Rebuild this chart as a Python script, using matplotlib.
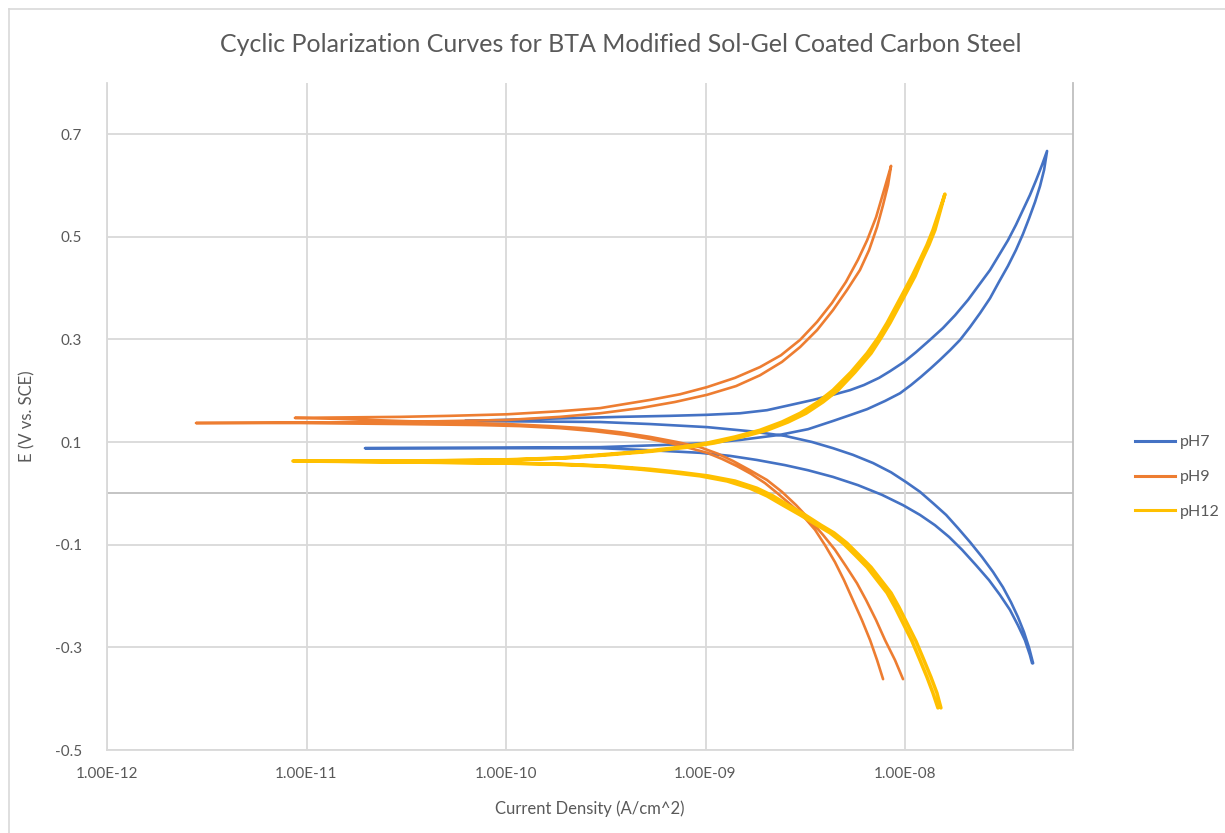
import numpy as np
import matplotlib
matplotlib.use("Agg")
import matplotlib.pyplot as plt
from matplotlib.lines import Line2D

plt.rcParams['font.family'] = ['Lato', 'DejaVu Sans']

# values, in scan order:
# (log10 current density in A/cm^2, potential in V vs SCE)
ph7 = [
    (-7.363, -0.331), (-7.374, -0.315), (-7.399, -0.286), (-7.434, -0.257), (-7.474, -0.227),
    (-7.524, -0.198), (-7.579, -0.169), (-7.644, -0.140), (-7.714, -0.110), (-7.779, -0.085),
    (-7.850, -0.062), (-7.925, -0.042), (-8.010, -0.023), (-8.115, -0.003), (-8.236, 0.016),
    (-8.361, 0.032), (-8.486, 0.045), (-8.602, 0.055), (-8.742, 0.065), (-8.877, 0.073),
    (-9.028, 0.079), (-9.278, 0.084), (-9.529, 0.088), (-10.030, 0.088), (-10.707, 0.088),
    (-10.030, 0.089), (-9.529, 0.090), (-9.228, 0.094), (-8.992, 0.098), (-8.827, 0.104),
    (-8.627, 0.114), (-8.486, 0.125), (-8.361, 0.141), (-8.271, 0.153), (-8.190, 0.164),
    (-8.100, 0.180), (-8.025, 0.195), (-7.970, 0.211), (-7.920, 0.227), (-7.870, 0.244),
    (-7.825, 0.260), (-7.774, 0.279), (-7.724, 0.299), (-7.674, 0.324), (-7.624, 0.351),
    (-7.574, 0.380), (-7.529, 0.412), (-7.484, 0.443), (-7.444, 0.474), (-7.409, 0.505),
    (-7.378, 0.536), (-7.348, 0.568), (-7.323, 0.599), (-7.303, 0.630), (-7.288, 0.667),
    (-7.313, 0.640), (-7.343, 0.610), (-7.374, 0.581), (-7.409, 0.552), (-7.444, 0.523),
    (-7.484, 0.493), (-7.529, 0.464), (-7.574, 0.435), (-7.629, 0.406), (-7.684, 0.377),
    (-7.749, 0.347), (-7.810, 0.322), (-7.875, 0.299), (-7.945, 0.275), (-8.005, 0.256),
    (-8.075, 0.238), (-8.130, 0.225), (-8.206, 0.211), (-8.276, 0.201), (-8.361, 0.192),
    (-8.461, 0.182), (-8.576, 0.172), (-8.692, 0.162), (-8.827, 0.156), (-8.992, 0.153),
    (-9.178, 0.151), (-9.429, 0.149), (-9.830, 0.145), (-10.206, 0.141),
    (-9.529, 0.139), (-9.278, 0.135), (-8.992, 0.129), (-8.777, 0.121), (-8.602, 0.112),
    (-8.466, 0.100), (-8.361, 0.088), (-8.261, 0.075), (-8.160, 0.059), (-8.070, 0.041),
    (-7.995, 0.022), (-7.925, 0.003), (-7.860, -0.019), (-7.794, -0.042), (-7.734, -0.068),
    (-7.674, -0.095), (-7.614, -0.124), (-7.559, -0.153), (-7.509, -0.183), (-7.469, -0.212),
    (-7.434, -0.241), (-7.404, -0.270), (-7.378, -0.301), (-7.358, -0.331),
]

ph9 = [
    (-8.110, -0.362), (-8.140, -0.325), (-8.175, -0.286), (-8.216, -0.247), (-8.261, -0.208),
    (-8.306, -0.169), (-8.351, -0.134), (-8.401, -0.101), (-8.451, -0.071), (-8.511, -0.044),
    (-8.576, -0.021), (-8.642, 0.001), (-8.702, 0.020), (-8.772, 0.038), (-8.842, 0.053),
    (-8.917, 0.067), (-8.992, 0.079), (-9.078, 0.088), (-9.178, 0.098), (-9.278, 0.106),
    (-9.404, 0.114), (-9.554, 0.121), (-9.729, 0.127), (-9.930, 0.131), (-10.130, 0.133),
    (-10.531, 0.135), (-11.033, 0.137), (-11.554, 0.137),
    (-11.033, 0.138), (-10.531, 0.139), (-9.995, 0.143), (-9.729, 0.149), (-9.529, 0.156),
    (-9.328, 0.166), (-9.153, 0.178), (-8.992, 0.192), (-8.847, 0.209), (-8.727, 0.230),
    (-8.617, 0.256), (-8.526, 0.285), (-8.441, 0.318), (-8.361, 0.357), (-8.291, 0.396),
    (-8.226, 0.435), (-8.180, 0.474), (-8.140, 0.519), (-8.110, 0.562), (-8.085, 0.601),
    (-8.070, 0.638),
    (-8.105, 0.591), (-8.145, 0.538), (-8.190, 0.493), (-8.236, 0.455), (-8.296, 0.412),
    (-8.366, 0.371), (-8.441, 0.334), (-8.526, 0.299), (-8.622, 0.269), (-8.727, 0.246),
    (-8.852, 0.225), (-8.992, 0.207), (-9.128, 0.193), (-9.278, 0.182), (-9.404, 0.174),
    (-9.529, 0.166), (-9.729, 0.160), (-9.995, 0.154), (-10.281, 0.151), (-10.531, 0.149),
    (-11.058, 0.147),
    (-10.832, 0.145), (-10.531, 0.141), (-10.180, 0.137), (-9.995, 0.135), (-9.779, 0.131),
    (-9.614, 0.127), (-9.429, 0.119), (-9.278, 0.110), (-9.143, 0.100), (-9.028, 0.090),
    (-8.937, 0.077), (-8.862, 0.063), (-8.777, 0.045), (-8.692, 0.026), (-8.617, 0.003),
    (-8.546, -0.023), (-8.476, -0.052), (-8.411, -0.081), (-8.351, -0.110), (-8.296, -0.142),
    (-8.241, -0.175), (-8.195, -0.208), (-8.145, -0.247), (-8.100, -0.286), (-8.050, -0.325),
    (-8.010, -0.362),
]

ph12 = [
    (-7.835, -0.418), (-7.860, -0.389), (-7.890, -0.358), (-7.925, -0.325), (-7.965, -0.288),
    (-8.010, -0.253), (-8.050, -0.222), (-8.090, -0.194), (-8.140, -0.169), (-8.190, -0.144),
    (-8.251, -0.120), (-8.311, -0.097), (-8.376, -0.077), (-8.441, -0.062), (-8.526, -0.042),
    (-8.612, -0.023), (-8.692, -0.005), (-8.777, 0.010), (-8.892, 0.024), (-9.028, 0.034),
    (-9.178, 0.041), (-9.328, 0.047), (-9.529, 0.053), (-9.779, 0.057), (-10.030, 0.059),
    (-10.531, 0.061), (-11.068, 0.063),
    (-10.531, 0.063), (-10.030, 0.065), (-9.729, 0.069), (-9.529, 0.075), (-9.303, 0.082),
    (-9.128, 0.090), (-8.992, 0.098), (-8.852, 0.110), (-8.727, 0.123), (-8.617, 0.139),
    (-8.526, 0.156), (-8.436, 0.178), (-8.361, 0.201), (-8.271, 0.236), (-8.190, 0.273),
    (-8.135, 0.303), (-8.090, 0.332), (-8.050, 0.361), (-8.010, 0.390), (-7.965, 0.423),
    (-7.925, 0.455), (-7.890, 0.484), (-7.860, 0.513), (-7.830, 0.548), (-7.800, 0.583),
    (-7.825, 0.548), (-7.850, 0.513), (-7.880, 0.484), (-7.915, 0.455), (-7.950, 0.423),
    (-7.995, 0.390), (-8.035, 0.361), (-8.075, 0.332), (-8.120, 0.303), (-8.170, 0.273),
    (-8.251, 0.236), (-8.336, 0.201), (-8.411, 0.178), (-8.496, 0.156), (-8.586, 0.139),
    (-8.692, 0.123), (-8.817, 0.110), (-8.957, 0.098), (-9.088, 0.090), (-9.268, 0.082),
    (-9.489, 0.075), (-9.689, 0.069), (-9.980, 0.065), (-10.431, 0.063), (-10.982, 0.063),
    (-10.431, 0.061), (-9.980, 0.059), (-9.729, 0.057), (-9.479, 0.053), (-9.278, 0.047),
    (-9.128, 0.041), (-8.987, 0.034), (-8.852, 0.024), (-8.742, 0.010), (-8.662, -0.005),
    (-8.586, -0.023), (-8.501, -0.042), (-8.421, -0.062), (-8.356, -0.077), (-8.291, -0.097),
    (-8.231, -0.120), (-8.170, -0.144), (-8.120, -0.169), (-8.070, -0.194), (-8.030, -0.222),
    (-7.990, -0.253), (-7.945, -0.288), (-7.905, -0.325), (-7.870, -0.358), (-7.840, -0.389),
    (-7.820, -0.418),
]

series_names = ['pH7', 'pH9', 'pH12']
colors = ['#4472C4', '#ED7D31', '#FFC000']
x_ticks = [1e-12, 1e-11, 1e-10, 1e-9, 1e-8]
x_tick_labels = ['1.00E-12', '1.00E-11', '1.00E-10', '1.00E-09', '1.00E-08']
y_ticks = [-0.5, -0.3, -0.1, 0.1, 0.3, 0.5, 0.7]

W, H = 1225, 833
fig = plt.figure(figsize=(W / 100, H / 100), dpi=100)
ax = fig.add_axes([107 / W, 83 / H, 966 / W, 667.3 / H])

grid_c = '#D9D9D9'
text_c = '#595959'

widths = [1.9, 1.9, 2.5]
for data, c, lw, z in zip([ph7, ph9, ph12], colors, widths, [3, 4, 5]):
    logi, e = np.array(data).T
    ax.plot(10 ** logi, e, color=c, lw=lw, solid_joinstyle='round',
            solid_capstyle='round', zorder=z)

ax.set_xscale('log')
ax.set_xlim(1e-12, 6.95e-8)
ax.set_ylim(-0.5, 0.8)
ax.set_xticks(x_ticks)
ax.set_xticklabels(x_tick_labels)
ax.xaxis.set_minor_locator(matplotlib.ticker.NullLocator())
ax.set_yticks(y_ticks)
ax.set_yticklabels([f'{v:.1f}' for v in y_ticks])
ax.tick_params(axis='both', length=0, labelsize=11, labelcolor=text_c)
ax.tick_params(axis='x', pad=12)
ax.tick_params(axis='y', pad=18)

ax.grid(True, color=grid_c, lw=1.3, zorder=0)
ax.axhline(0, color='#BFBFBF', lw=1.3, zorder=1)
ax.spines['top'].set_visible(False)
ax.spines['left'].set_color(grid_c)
ax.spines['bottom'].set_color(grid_c)
ax.spines['right'].set_color('#BFBFBF')
for s in ['left', 'bottom', 'right']:
    ax.spines[s].set_linewidth(1.3)

fig.text(621 / W, 1 - 44 / H,
         'Cyclic Polarization Curves for BTA Modified Sol-Gel Coated Carbon Steel',
         ha='center', va='center', fontsize=18, color=text_c)
ax.set_xlabel('Current Density (A/cm^2)', fontsize=12, color=text_c, labelpad=14)
ax.set_ylabel('E (V vs. SCE)', fontsize=12, color=text_c, labelpad=14)

handles = [Line2D([], [], color=c, lw=2.2) for c in colors]
fig.legend(handles, series_names, loc='center left', bbox_to_anchor=(1135 / W, 1 - 477 / H),
           frameon=False, fontsize=11.5, labelcolor=text_c, handlelength=2.5,
           handletextpad=0.3, labelspacing=1.3, borderpad=0, borderaxespad=0)

# chart area border
fig.add_artist(Line2D([8.5 / W, 8.5 / W], [0, 1 - 8.5 / H], color=grid_c, lw=1.2))
fig.add_artist(Line2D([8.5 / W, 1], [1 - 8.5 / H, 1 - 8.5 / H], color=grid_c, lw=1.2))

fig.savefig('out.png', dpi=100, facecolor='white')
